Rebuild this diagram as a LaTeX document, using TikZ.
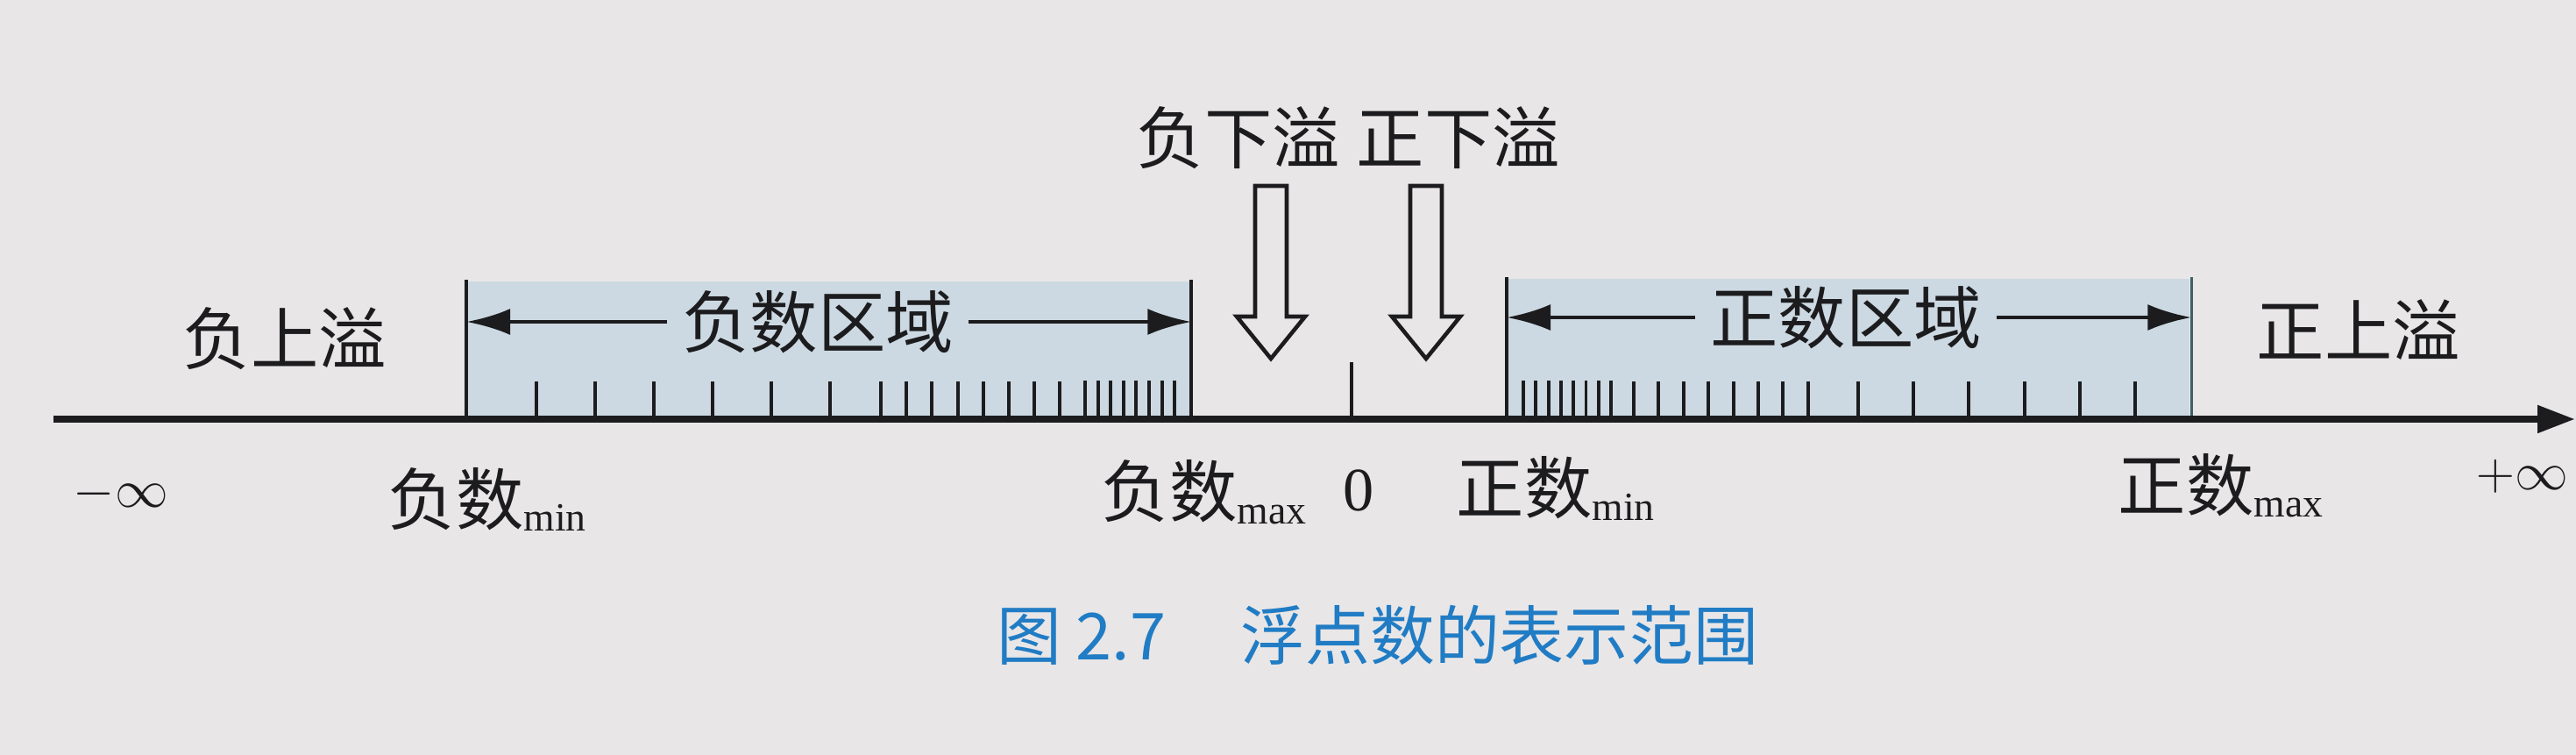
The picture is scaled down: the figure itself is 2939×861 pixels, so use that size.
\documentclass[tikz,border=0pt]{standalone}
\usepackage{fontspec}
\setmainfont{Liberation Serif}
\newfontfamily\cjk{Noto Sans CJK SC}
\usetikzlibrary{arrows.meta}

\definecolor{paper}{RGB}{233,230,231}
\definecolor{zonefill}{RGB}{204,217,226}
\definecolor{ink}{RGB}{28,28,30}
\definecolor{capblue}{RGB}{32,124,196}

\newcommand{\sub}[1]{\raisebox{-2pt}{\rmfamily\fontsize{13}{14}\selectfont #1}}

\begin{document}
\begin{tikzpicture}[x=0.01cm, y=-0.01cm, color=ink, line width=1.1pt,
    lbl/.style={font=\cjk\fontsize{22}{24}\selectfont, inner sep=0pt},
    bot/.style={font=\cjk\fontsize{22}{24}\selectfont, inner sep=0pt, anchor=base west},
    zonebox/.style={fill=zonefill, draw=none, inner sep=0pt, anchor=south west},
    spanarrow/.style={-{Latex[length=0.5cm,width=0.3cm]}, line width=1.4pt},
    hollow/.style={draw, fill=paper, line width=1.3pt, line join=miter}]

   \fill[paper] (0,0) rectangle (2939,861);
   \useasboundingbox (0,0) rectangle (2939,861);

   % shaded regions
   \node[zonebox, minimum width=8.23cm, minimum height=1.55cm] (negzone) at (532,478) {};
   \node[zonebox, minimum width=7.77cm, minimum height=1.58cm] (poszone) at (1719,478) {};
   \draw (negzone.north west) -- (negzone.south west);
   \draw (negzone.north east) -- (negzone.south east);
   \draw (poszone.north west) -- (poszone.south west);
   \draw[line width=0.8pt, draw={rgb,255:red,60;green,95;blue,105}] (poszone.north east) -- (poszone.south east);

   % ticks
   \foreach \i in {0,...,5} {
      \draw (612+67*\i,478) -- ++(0,-43);
      \draw (2120+63.2*\i,478) -- ++(0,-43);
   }
   \foreach \i in {0,...,7} {
      \draw (1005+29.2*\i,478) -- ++(0,-43);
      \draw (1238+14.6*\i,478) -- ++(0,-44);
      \draw (1738+14.3*\i,478) -- ++(0,-44);
      \draw (1864+28.4*\i,478) -- ++(0,-43);
   }
   \draw (1542,478) -- (1542,413);

   % axis
   \coordinate (minf) at (61,478);
   \coordinate (pinf) at (2938,478);
   \draw[line width=2.3pt, -{Triangle[length=0.43cm,width=0.3cm]}] (minf) -- (pinf);

   % region labels
   \node[lbl, inner xsep=0.15cm] (negtxt) at (933,367) {负数区域};
   \node[lbl, inner xsep=0.15cm] (postxt) at (2106,362) {正数区域};
   \draw[spanarrow] (negtxt.west) -- (negtxt.west -| negzone.west);
   \draw[spanarrow] (negtxt.east) -- (negtxt.east -| negzone.east);
   \draw[spanarrow] (postxt.west) -- (postxt.west -| poszone.west);
   \draw[spanarrow] (postxt.east) -- (postxt.east -| poszone.east);

   \node[lbl] (negover) at (325,386) {负上溢};
   \node[lbl] (posover) at (2691,376) {正上溢};
   \node[lbl] (negunder) at (1413,157) {负下溢};
   \node[lbl] (posunder) at (1664,157) {正下溢};

   % underflow arrows
   \foreach \x in {1450,1627}
      \draw[hollow] (\x-18,212) -- (\x+18,212) -- (\x+18,361) -- (\x+39,361)
         -- (\x,409) -- (\x-39,361) -- (\x-18,361) -- cycle;

   % values on the axis
   \node[inner sep=0pt, font=\fontsize{18}{20}\selectfont] (mininf) at (138,563) {$-\infty$};
   \node[inner sep=0pt, font=\fontsize{18}{20}\selectfont] (plusinf) at (2878,543) {$+\infty$};
   \node[bot] (negmin) at (441,598) {负数\sub{min}};
   \node[bot] (negmax) at (1255,590) {负数\sub{max}};
   \node[inner sep=0pt, anchor=base, font=\fontsize{20}{22}\selectfont] (zero) at (1550,582) {0};
   \node[bot] (posmin) at (1660,586) {正数\sub{min}};
   \node[bot] (posmax) at (2415,582) {正数\sub{max}};

   % caption
   \node[inner sep=0pt, text=capblue, font=\cjk\fontsize{21}{23}\selectfont] (cap) at (1572,724)
      {图 2.7\hspace{0.85cm}浮点数的表示范围};

\end{tikzpicture}
\end{document}
